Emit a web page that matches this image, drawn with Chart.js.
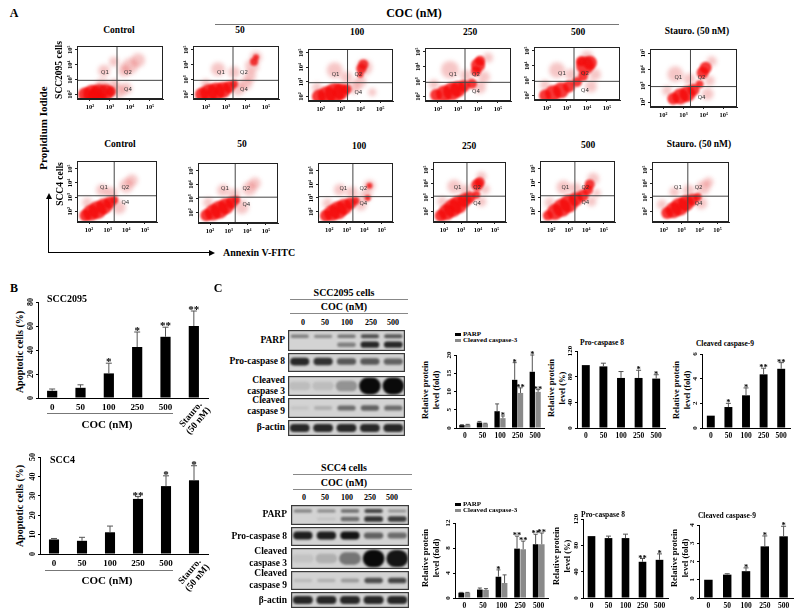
<!DOCTYPE html>
<html>
<head>
<meta charset="utf-8">
<script src="https://cdn.jsdelivr.net/npm/chart.js@4.4.1/dist/chart.umd.min.js"></script>
<style>
  body { margin: 0; background: #fff; }
  #fig { position: relative; width: 802px; height: 615px; overflow: hidden; background: #fff;
         font-family: "Liberation Serif", "Times New Roman", serif; font-weight: bold; color: #000; }
  .t { position: absolute; white-space: nowrap; line-height: 1; text-align: center; }
  .hl { position: absolute; height: 0; border-top: 1px solid #777; }
  .cw { position: absolute; }
  .lg { position: absolute; font-size: 7px; line-height: 1; white-space: nowrap; }
  .lg i { display: inline-block; width: 6px; height: 3px; margin-right: 2px; vertical-align: middle; }
</style>
</head>
<body>
<div id="fig"></div>
<script>
const FONT = '"Liberation Serif", "Times New Roman", serif';

// ---------- A: flow cytometry, positions in log10 decades [x, y, radius]
const flowDecades = [2, 3, 4, 5];
const flowDecadeLabels = ['10²', '10³', '10⁴', '10⁵'];
const flowConditions = ['Control', '50', '100', '250', '500', 'Stauro. (50 nM)'];

const scc2095Core = [
  [[1.75,2.0,7],[2.1,2.05,9],[2.45,2.1,9],[2.8,2.15,8],[3.05,2.2,5],[2.3,1.9,8]],
  [[1.8,2.0,7],[2.15,2.1,9],[2.5,2.2,9],[2.85,2.3,8],[3.15,2.5,6],[3.4,2.7,4],[4.4,4.2,4],[4.5,4.5,3]],
  [[1.9,2.0,7],[2.3,2.1,9],[2.7,2.25,10],[3.0,2.35,8],[3.3,2.5,5],[4.05,3.9,5],[4.15,4.2,5],[4.0,3.5,3]],
  [[1.9,2.1,6],[2.3,2.2,8],[2.7,2.35,9],[3.0,2.5,8],[3.3,2.7,6],[3.7,2.85,5],[4.0,4.1,7],[3.9,3.7,5],[4.1,4.4,5]],
  [[1.9,2.0,6],[2.3,2.15,8],[2.7,2.35,8],[3.1,2.6,6],[3.5,2.9,5],[3.8,3.3,5],[3.9,4.0,9],[4.15,4.2,7],[3.7,4.3,5]],
  [[2.5,2.2,6],[2.85,2.35,8],[3.2,2.5,8],[3.5,2.75,6],[3.8,3.1,4],[3.95,3.8,6],[4.1,4.1,6]]
];
const scc2095Halo = [
  [[3.4,2.2,7],[3.8,2.4,6],[2.6,2.6,7],[3.2,2.7,5],[4.0,3.9,8],[4.4,4.3,7],[3.7,3.6,6],[2.7,3.6,6],[3.2,4.2,5]],
  [[3.6,2.4,7],[4.0,2.7,6],[4.2,3.2,6],[4.3,3.9,7],[4.5,4.5,6],[2.6,3.7,7],[3.4,3.5,6],[2.0,2.7,5]],
  [[3.7,2.6,6],[4.0,3.0,6],[4.2,4.0,8],[2.7,3.8,8],[3.3,3.3,6],[1.8,2.6,5],[4.6,2.3,4]],
  [[2.6,3.8,9],[3.4,3.4,6],[4.1,2.6,6],[4.3,3.3,6],[1.8,2.8,5],[4.5,4.6,5]],
  [[2.5,3.7,8],[3.2,3.4,6],[4.2,2.6,6],[4.4,3.4,6],[4.0,4.6,6],[1.9,2.7,5]],
  [[2.6,3.7,8],[3.3,3.4,6],[4.2,2.5,6],[4.3,3.3,5],[2.2,2.7,5],[4.4,4.5,5]]
];
const scc4Core = [
  [[1.8,1.7,6],[2.1,1.9,8],[2.45,2.1,9],[2.8,2.35,8],[3.1,2.6,6],[3.35,2.8,4]],
  [[1.8,1.8,6],[2.15,2.0,8],[2.5,2.2,9],[2.85,2.45,8],[3.15,2.7,6],[3.4,2.9,4]],
  [[1.8,1.7,6],[2.15,1.9,8],[2.5,2.1,9],[2.85,2.35,8],[3.2,2.6,6],[3.5,2.8,4],[4.2,3.0,3],[4.3,3.9,3]],
  [[1.8,1.7,6],[2.15,1.95,8],[2.5,2.25,9],[2.85,2.5,9],[3.2,2.8,7],[3.5,3.0,6],[3.95,3.9,6],[4.1,4.1,5],[3.9,3.2,4]],
  [[1.8,1.7,5],[2.2,1.95,8],[2.6,2.25,9],[3.0,2.55,9],[3.4,2.85,7],[3.8,3.1,6],[4.1,3.5,5],[4.2,3.9,5]],
  [[2.2,1.9,6],[2.55,2.1,8],[2.9,2.35,9],[3.25,2.6,8],[3.6,2.85,6],[3.9,3.05,4]]
];
const scc4Halo = [
  [[3.6,2.3,7],[3.2,3.3,6],[4.0,3.8,7],[4.3,4.2,6],[2.7,3.5,6],[1.9,2.6,5]],
  [[3.7,2.4,7],[3.3,3.3,6],[4.1,3.7,7],[4.4,4.1,6],[2.7,3.6,6],[1.9,2.7,5]],
  [[3.8,2.5,6],[4.1,3.2,6],[4.3,3.9,6],[3.3,3.4,6],[2.6,3.6,6],[1.9,2.6,5]],
  [[2.6,3.8,7],[3.3,3.5,6],[4.2,2.7,5],[4.4,3.6,5],[1.9,2.7,5],[4.2,4.5,5]],
  [[2.7,3.7,7],[3.4,3.6,6],[4.3,2.7,5],[4.4,4.3,6],[1.9,2.6,5],[4.6,3.3,4]],
  [[4.1,2.6,6],[4.2,3.7,7],[3.4,3.5,6],[2.6,3.4,5],[1.9,2.5,5],[4.5,4.1,5]]
];

// ---------- B: apoptotic cells (%)
const bCategories = ['0', '50', '100', '250', '500', 'Stauro. (50 nM)'];
const apop2095 = [6, 8.5, 20.5, 42.5, 51, 60];
const apop2095Err = [7.5, 11, 29, 55, 59, 72.5];
const apop2095Stars = ['', '', '*', '*', '**', '**'];
const apopScc4 = [7.5, 6.8, 11.2, 28.4, 35, 38];
const apopScc4Err = [8, 8.6, 14.4, 29.6, 40.3, 45.5];
const apopScc4Stars = ['', '', '', '**', '*', '*'];

// ---------- C: western blot band intensity (0-1), lanes = doses
const doseLabels = ['0', '50', '100', '250', '500'];
const parpUp2095 = [0.4, 0.35, 0.45, 0.65, 0.6];
const parpLow2095 = [0, 0, 0.4, 0.85, 0.85];
const proC8Band2095 = [0.85, 0.8, 0.6, 0.6, 0.55];
const cc3Band2095 = [0.08, 0.08, 0.3, 1, 1];
const cc9Band2095 = [0.05, 0.15, 0.5, 0.55, 0.5];
const actinBand2095 = [0.85, 0.85, 0.85, 0.85, 0.85];
const parpUpScc4 = [0.4, 0.35, 0.5, 0.7, 0.3];
const parpLowScc4 = [0, 0.05, 0.5, 0.8, 0.75];
const proC8BandScc4 = [0.9, 0.9, 0.95, 0.55, 0.5];
const cc3BandScc4 = [0.05, 0.15, 0.45, 1, 0.95];
const cc9BandScc4 = [0.1, 0.15, 0.25, 0.65, 0.7];
const actinBandScc4 = [0.85, 0.85, 0.85, 0.85, 0.85];

// ---------- C: quantification
const parp2095 = [0.8, 1.5, 4.6, 13.2, 15.4];
const parp2095Err = [0.9, 1.8, 6.6, 17.9, 20];
const parp2095Stars = ['', '', '', '*', '*'];
const cc3_2095 = [0.9, 1.2, 2.7, 9.6, 9.9];
const cc3_2095Err = [1, 1.3, 3.3, 11, 10.5];
const cc3_2095Stars = ['', '', '*', '**', '**'];
const proC8_2095 = [98, 96, 78, 78, 77];
const proC8_2095Err = [98, 101, 88, 90, 83];
const proC8_2095Stars = ['', '', '', '*', '*'];
const cc9_2095 = [1.0, 1.7, 2.65, 4.35, 4.8];
const cc9_2095Err = [1.0, 2.0, 3.25, 4.85, 5.3];
const cc9_2095Stars = ['', '*', '*', '**', '**'];

const parpScc4 = [0.85, 1.35, 3.4, 7.9, 8.6];
const parpScc4Err = [0.9, 1.6, 4.5, 9.9, 10.2];
const parpScc4Stars = ['', '', '*', '**', '**'];
const cc3Scc4 = [0.85, 1.3, 2.4, 7.8, 8.6];
const cc3Scc4Err = [0.9, 1.5, 3.7, 9.1, 10.4];
const cc3Scc4Stars = ['', '', '', '**', '**'];
const proC8Scc4 = [94, 91, 91, 55, 58];
const proC8Scc4Err = [94, 94, 97, 60, 67];
const proC8Scc4Stars = ['', '', '', '**', '*'];
const cc9Scc4 = [1.0, 1.28, 1.47, 2.83, 3.38];
const cc9Scc4Err = [1.0, 1.33, 1.65, 3.4, 3.93];
const cc9Scc4Stars = ['', '', '*', '*', '*'];

Chart.defaults.font.family = FONT;
Chart.defaults.font.weight = 'bold';
Chart.defaults.font.size = 8;
Chart.defaults.color = '#000';
Chart.defaults.plugins.legend.display = false;
Chart.defaults.plugins.tooltip.enabled = false;

const fig = document.getElementById('fig');

// y tick labels turned 90 degrees, as in the figure
const rotYTicks = {
  id: 'rotYTicks',
  afterDraw(chart, args, o) {
    if (!o || !o.size) return;
    const s = chart.scales.y, ctx = chart.ctx;
    ctx.save();
    ctx.font = `bold ${o.size}px ${FONT}`;
    ctx.fillStyle = '#000';
    ctx.textAlign = 'center';
    ctx.textBaseline = 'bottom';
    s.ticks.forEach(t => {
      ctx.save();
      ctx.translate(chart.chartArea.left - o.gap, s.getPixelForValue(t.value));
      ctx.rotate(-Math.PI / 2);
      ctx.fillText(t.label !== undefined ? t.label : String(t.value), 0, 0);
      ctx.restore();
    });
    ctx.restore();
  }
};

// upper error bars + significance stars
const errStars = {
  id: 'errStars',
  afterDatasetsDraw(chart, args, o) {
    if (!o || !o.cap) return;
    const ctx = chart.ctx, ys = chart.scales.y;
    ctx.save();
    chart.data.datasets.forEach((ds, di) => {
      chart.getDatasetMeta(di).data.forEach((bar, i) => {
        let top = bar.y;
        const e = ds.errHi ? ds.errHi[i] : null;
        if (e != null && e > ds.data[i]) {
          const ey = ys.getPixelForValue(e);
          ctx.strokeStyle = o.color;
          ctx.lineWidth = 1;
          ctx.beginPath();
          ctx.moveTo(bar.x, bar.y);
          ctx.lineTo(bar.x, ey);
          ctx.moveTo(bar.x - o.cap, ey);
          ctx.lineTo(bar.x + o.cap, ey);
          ctx.stroke();
          top = ey;
        }
        const st = ds.stars ? ds.stars[i] : '';
        if (st) {
          ctx.fillStyle = '#000';
          ctx.font = `bold ${o.star}px ${FONT}`;
          ctx.textAlign = 'center';
          ctx.textBaseline = 'alphabetic';
          ctx.fillText(st, bar.x, top + o.starDy);
        }
      });
    });
    ctx.restore();
  }
};

// flow plot: soft cell clouds, frame, quadrant gates and Q labels
const flowDeco = {
  id: 'flowDeco',
  beforeDatasetDraw(chart, args, o) {
    if (!o || o.qx == null) return;
    chart.ctx.save();
    chart.ctx.filter = args.index === 0 ? 'blur(2.2px)' : 'blur(1.3px)';
  },
  afterDatasetDraw(chart, args, o) {
    if (!o || o.qx == null) return;
    chart.ctx.restore();
  },
  afterDatasetsDraw(chart, args, o) {
    if (!o || o.qx == null) return;
    const {ctx, chartArea: a, scales: {x, y}} = chart;
    ctx.save();
    ctx.strokeStyle = '#444';
    ctx.lineWidth = 1;
    const qx = x.getPixelForValue(o.qx), qy = y.getPixelForValue(o.qy);
    ctx.beginPath();
    ctx.moveTo(qx, a.top); ctx.lineTo(qx, a.bottom);
    ctx.moveTo(a.left, qy); ctx.lineTo(a.right, qy);
    ctx.stroke();
    ctx.strokeStyle = '#222';
    ctx.strokeRect(a.left + 0.5, a.top + 0.5, a.width - 1, a.height - 1);
    ctx.fillStyle = '#333';
    ctx.font = `5.5px "DejaVu Sans", sans-serif`;
    ctx.textAlign = 'center';
    ctx.textBaseline = 'middle';
    o.labels.forEach(l => ctx.fillText(l[0], x.getPixelForValue(l[1]), y.getPixelForValue(l[2])));
    ctx.restore();
  }
};

// blot membrane strip: grey background, soft band edges, frame
const blotStrip = {
  id: 'blotStrip',
  beforeDatasetsDraw(chart, args, o) {
    if (!o || !o.bg) return;
    const {ctx, chartArea: a} = chart;
    ctx.fillStyle = o.bg;
    ctx.fillRect(a.left, a.top, a.width, a.height);
    ctx.save();
    ctx.filter = 'blur(0.9px)';
  },
  afterDatasetsDraw(chart, args, o) {
    if (!o || !o.bg) return;
    const {ctx, chartArea: a} = chart;
    ctx.restore();
    ctx.strokeStyle = '#3a3a3a';
    ctx.lineWidth = 1.2;
    ctx.strokeRect(a.left + 0.6, a.top + 0.6, a.width - 1.2, a.height - 1.2);
  }
};

Chart.register(rotYTicks, errStars, flowDeco, blotStrip);

// chart area is pinned to [x0..x1] x [y0..y1] on the page
function mount(x0, y0, x1, y1, pad, config) {
  const d = document.createElement('div');
  d.className = 'cw';
  d.style.left = (x0 - pad.l) + 'px';
  d.style.top = (y0 - pad.t) + 'px';
  d.style.width = (x1 - x0 + pad.l + pad.r) + 'px';
  d.style.height = (y1 - y0 + pad.t + pad.b) + 'px';
  const c = document.createElement('canvas');
  d.appendChild(c);
  fig.appendChild(d);
  config.options = Object.assign({
    responsive: true, maintainAspectRatio: false, animation: false, events: [],
    layout: {padding: {left: 0, right: pad.r, top: pad.t, bottom: 0}}
  }, config.options);
  const sc = config.options.scales;
  sc.x.afterFit = s => { s.height = pad.b; s.paddingLeft = 0; s.paddingRight = 0; };
  sc.y.afterFit = s => { s.width = pad.l; s.paddingTop = 0; s.paddingBottom = 0; };
  return new Chart(c, config);
}

function txt(s, x, y, size, o = {}) {
  const e = document.createElement('div');
  e.className = 't';
  e.innerHTML = s;
  e.style.left = x + 'px';
  e.style.top = y + 'px';
  e.style.fontSize = size + 'px';
  const ax = o.align === 'r' ? '-100%' : o.align === 'l' ? '0' : '-50%';
  e.style.transform = `translate(${ax},-50%)` + (o.rot ? ` rotate(${o.rot}deg)` : '');
  if (o.lh) e.style.lineHeight = o.lh;
  fig.appendChild(e);
}

function hline(x0, y, x1, color) {
  const e = document.createElement('div');
  e.className = 'hl';
  e.style.left = x0 + 'px';
  e.style.top = y + 'px';
  e.style.width = (x1 - x0) + 'px';
  if (color) e.style.borderTopColor = color;
  fig.appendChild(e);
}

function legendItem(x, y, color, label) {
  const e = document.createElement('div');
  e.className = 'lg';
  e.style.left = x + 'px';
  e.style.top = (y - 4) + 'px';
  e.innerHTML = `<i style="background:${color}"></i>${label}`;
  fig.appendChild(e);
}

function flowPlot(box, core, halo, yMin, yMax, qy, qlab) {
  const toPts = arr => arr.map(p => ({x: p[0], y: p[1], r: p[2]}));
  const axis = (min, max) => ({
    type: 'linear', min, max,
    afterBuildTicks: s => { s.ticks = flowDecades.map(v => ({value: v})); },
    grid: {display: true, drawOnChartArea: false, drawTicks: true, tickLength: 2, color: '#222'},
    border: {display: true, color: '#222'},
    ticks: {autoSkip: false, maxRotation: 0, padding: 2, font: {size: 6.5}, callback: (v, i) => flowDecadeLabels[i]}
  });
  const x = axis(1.35, 5.65), y = axis(yMin, yMax);
  y.ticks.color = 'rgba(0,0,0,0)';
  mount(box[0], box[1], box[2], box[3], {l: 13, r: 1, t: 1, b: 12}, {
    type: 'bubble',
    data: {datasets: [
      {data: toPts(halo), backgroundColor: 'rgba(220,35,35,0.26)', borderWidth: 0, clip: 0},
      {data: toPts(core), backgroundColor: 'rgba(245,8,8,0.8)', borderWidth: 0, clip: 0}
    ]},
    options: {
      scales: {x, y},
      plugins: {rotYTicks: {size: 6.5, gap: 3}, flowDeco: {qx: 3.35, qy, labels: qlab}}
    }
  });
}

function barPlot(area, labels, sets, yMax, step, o) {
  mount(area[0], area[1], area[2], area[3], {l: o.padL, r: 2, t: 14, b: o.padB}, {
    type: 'bar',
    data: {labels, datasets: sets.map(s => ({
      data: s.data, errHi: s.err, stars: s.stars, backgroundColor: s.color,
      barPercentage: o.bp, categoryPercentage: o.cp
    }))},
    options: {
      scales: {
        x: {grid: {display: false, drawTicks: false}, border: {display: true, color: '#000', width: 1},
            ticks: {font: {size: o.xf}, padding: o.xpad, autoSkip: false, maxRotation: 0,
                    callback: (v, i) => (o.hideLast && i === labels.length - 1) ? '' : labels[i]}},
        y: {min: 0, max: yMax, grid: {display: true, drawOnChartArea: false, tickLength: 2, color: '#000'},
            border: {display: true, color: '#000'},
            ticks: {stepSize: step, autoSkip: false, color: 'rgba(0,0,0,0)', font: {size: o.yf}}}
      },
      plugins: {rotYTicks: {size: o.yf, gap: 3}, errStars: {cap: o.cap, color: '#555', star: o.sf, starDy: o.sdy}}
    }
  });
}

const bandGray = v => { const g = Math.round(205 - 195 * v); return `rgb(${g},${g},${g})`; };

function blotRow(area, bands) {
  mount(area[0], area[1], area[2], area[3], {l: 0, r: 0, t: 0, b: 0}, {
    type: 'bar',
    data: {labels: doseLabels, datasets: bands.map(b => ({
      data: b.v.map(v => v > 0 ? [b.c - b.h * (0.45 + 0.55 * v), b.c + b.h * (0.45 + 0.55 * v)] : null),
      backgroundColor: b.v.map(bandGray), barPercentage: b.w, categoryPercentage: 1, grouped: false,
      borderRadius: 20, borderSkipped: false
    }))},
    options: {
      layout: {padding: 0},
      scales: {x: {display: false}, y: {display: false, min: 0, max: 1}},
      plugins: {blotStrip: {bg: '#d3d3d3'}}
    }
  });
}

// ================= Panel A =================
txt('A', 14, 13, 12);
txt('COC (nM)', 414, 13, 12);
hline(215, 24, 619);

const flowRow1 = [[77,38,171,99],[193,38,287,99],[308,40,402,101],[425,40,519,101],[534,39,628,100],[650,42,744,107]];
const flowRow2 = [[77,153,165,222],[198,155,286,223],[318,155,401,222],[433,154,514,222],[540,153,623,222],[652,154,737,222]];
const title1 = [[119,31],[240,31],[357,33],[470,33],[578,33],[697,32]];
const title2 = [[120,145],[242,145],[359,147],[469,147],[588,146],[699,145]];
const q1 = [['Q1',2.75,3.5],['Q2',3.9,3.5],['Q4',3.9,2.3]];
const q2 = [['Q1',2.8,3.7],['Q2',3.95,3.7],['Q4',3.95,2.6]];

flowConditions.forEach((name, i) => {
  txt(name, title1[i][0], title1[i][1], 9.5);
  txt(name, title2[i][0], title2[i][1], 9.5);
  flowPlot(flowRow1[i], scc2095Core[i], scc2095Halo[i], 1.7, 5.25, 2.95, q1);
  flowPlot(flowRow2[i], scc4Core[i], scc4Halo[i], 1.25, 5.55, 3.1, q2);
});

txt('Propidium Iodide', 43, 128, 11, {rot: -90});
txt('SCC2095 cells', 60, 70, 9.5, {rot: -90});
txt('SCC4 cells', 61, 184, 9.5, {rot: -90});
txt('Annexin V-FITC', 223, 253, 10, {align: 'l'});
{
  const v = document.createElement('div');
  v.style.cssText = 'position:absolute;left:48px;top:198px;height:54px;border-left:1px solid #000;';
  fig.appendChild(v);
  const vh = document.createElement('div');
  vh.style.cssText = 'position:absolute;left:45.5px;top:193px;width:0;height:0;border-left:3px solid transparent;border-right:3px solid transparent;border-bottom:6px solid #000;';
  fig.appendChild(vh);
  hline(48, 252, 210, '#000');
  const hh = document.createElement('div');
  hh.style.cssText = 'position:absolute;left:209px;top:249.5px;width:0;height:0;border-top:3px solid transparent;border-bottom:3px solid transparent;border-left:6px solid #000;';
  fig.appendChild(hh);
}

// ================= Panel B =================
txt('B', 14, 288, 12);
txt('SCC2095', 47, 299, 10, {align: 'l'});
txt('Apoptotic cells (%)', 20, 352, 10, {rot: -90});
const bOpts = {padL: 13, padB: 16, bp: 0.36, cp: 1, xf: 9, yf: 8, xpad: 4, cap: 3, sf: 11, sdy: 2, hideLast: true};
barPlot([38, 302, 208, 398], bCategories, [{data: apop2095, err: apop2095Err, stars: apop2095Stars, color: '#000'}], 80, 20, bOpts);
hline(47, 413, 173);
txt('COC (nM)', 107, 424, 11);
txt('Stauro.<br>(50 nM)', 195, 418, 9.5, {rot: -50, lh: 1.05});

txt('SCC4', 50, 460, 10, {align: 'l'});
txt('Apoptotic cells (%)', 20, 506, 10, {rot: -90});
barPlot([40, 457, 208, 554], bCategories, [{data: apopScc4, err: apopScc4Err, stars: apopScc4Stars, color: '#000'}], 50, 10, bOpts);
hline(45, 570, 173);
txt('COC (nM)', 107, 580, 11);
txt('Stauro.<br>(50 nM)', 194, 575, 9.5, {rot: -50, lh: 1.05});

// ================= Panel C: blots =================
txt('C', 218, 288, 12);

function blotBlock(cell, x0, x1, head, strips, laneX, laneY, labelX, labels, sets) {
  txt(cell, 344, head[0], 10);
  hline(x0 + 2, head[0] + 6, x1 + 3, '#888');
  txt('COC (nM)', 344, head[1], 10);
  hline(x0 + 2, head[1] + 6, x1 + 3, '#888');
  doseLabels.forEach((d, i) => txt(d, laneX[i], laneY, 8));
  labels.forEach(l => txt(l[0], labelX, l[1], 9.5, {align: 'r'}));
  strips.forEach((s, i) => blotRow([x0, s[0], x1, s[1]], sets[i]));
}

blotBlock('SCC2095 cells', 288, 405, [293, 307],
  [[330, 351], [353, 372], [376, 396], [398, 418], [420, 436]],
  [303, 325, 347, 371, 393], 323, 285,
  [['PARP', 341], ['Pro-caspase 8', 362], ['Cleaved', 381], ['caspase 3', 392], ['Cleaved', 401], ['caspase 9', 412], ['β-actin', 428]],
  [
    [{v: parpUp2095, c: 0.7, h: 0.12, w: 0.78}, {v: parpLow2095, c: 0.3, h: 0.16, w: 0.8}],
    [{v: proC8Band2095, c: 0.55, h: 0.22, w: 0.82}],
    [{v: cc3Band2095, c: 0.5, h: 0.42, w: 0.92}],
    [{v: cc9Band2095, c: 0.5, h: 0.18, w: 0.78}],
    [{v: actinBand2095, c: 0.5, h: 0.28, w: 0.85}]
  ]);

blotBlock('SCC4 cells', 291, 409, [468, 483],
  [[505, 525], [527, 546], [548, 569], [571, 590], [592, 608]],
  [304, 325, 347, 370, 392], 498, 287,
  [['PARP', 515], ['Pro-caspase 8', 537], ['Cleaved', 552], ['caspase 3', 564], ['Cleaved', 574], ['caspase 9', 586], ['β-actin', 601]],
  [
    [{v: parpUpScc4, c: 0.7, h: 0.12, w: 0.78}, {v: parpLowScc4, c: 0.3, h: 0.16, w: 0.8}],
    [{v: proC8BandScc4, c: 0.55, h: 0.22, w: 0.82}],
    [{v: cc3BandScc4, c: 0.5, h: 0.42, w: 0.92}],
    [{v: cc9BandScc4, c: 0.5, h: 0.18, w: 0.78}],
    [{v: actinBandScc4, c: 0.5, h: 0.28, w: 0.85}]
  ]);

// ================= Panel C: quantification =================
const cPair = {padL: 12, padB: 14, bp: 0.92, cp: 0.66, xf: 7.5, yf: 7, xpad: 4, cap: 2, sf: 8.5, sdy: 2};
const cOne = {padL: 12, padB: 14, bp: 0.45, cp: 1, xf: 7.5, yf: 7, xpad: 4, cap: 2.5, sf: 8.5, sdy: 2};
const GREY = '#8a8a8a';

legendItem(455, 335, '#000', 'PARP');
legendItem(455, 341, GREY, 'Cleaved caspase-3');
txt('Relative protein<br>level (fold)', 431, 390, 8.5, {rot: -90, lh: 1.25});
barPlot([456, 355, 544, 428], doseLabels, [
  {data: parp2095, err: parp2095Err, stars: parp2095Stars, color: '#000'},
  {data: cc3_2095, err: cc3_2095Err, stars: cc3_2095Stars, color: GREY}
], 20, 5, cPair);

txt('Pro-caspase 8', 602, 343, 7.5);
txt('Relative protein<br>level (%)', 557, 388, 8.5, {rot: -90, lh: 1.25});
barPlot([577, 351, 665, 428], doseLabels, [{data: proC8_2095, err: proC8_2095Err, stars: proC8_2095Stars, color: '#000'}], 120, 40, cOne);

txt('Cleaved caspase-9', 725, 344, 7.5);
txt('Relative protein<br>level (fold)', 682, 390, 8.5, {rot: -90, lh: 1.25});
barPlot([702, 354, 790, 428], doseLabels, [{data: cc9_2095, err: cc9_2095Err, stars: cc9_2095Stars, color: '#000'}], 6, 2, cOne);

legendItem(455, 505, '#000', 'PARP');
legendItem(455, 511, GREY, 'Cleaved caspase-3');
txt('Relative protein<br>level (fold)', 431, 558, 8.5, {rot: -90, lh: 1.25});
barPlot([455, 523, 548, 598], doseLabels, [
  {data: parpScc4, err: parpScc4Err, stars: parpScc4Stars, color: '#000'},
  {data: cc3Scc4, err: cc3Scc4Err, stars: cc3Scc4Stars, color: GREY}
], 12, 4, cPair);

txt('Pro-caspase 8', 603, 515, 7.5);
txt('Relative protein<br>level (%)', 562, 556, 8.5, {rot: -90, lh: 1.25});
barPlot([583, 519, 668, 598], doseLabels, [{data: proC8Scc4, err: proC8Scc4Err, stars: proC8Scc4Stars, color: '#000'}], 120, 40, cOne);

txt('Cleaved caspase-9', 727, 516, 7.5);
txt('Relative protein<br>level (fold)', 680, 558, 8.5, {rot: -90, lh: 1.25});
barPlot([699, 525, 793, 598], doseLabels, [{data: cc9Scc4, err: cc9Scc4Err, stars: cc9Scc4Stars, color: '#000'}], 4, 1, cOne);
</script>
</body>
</html>
